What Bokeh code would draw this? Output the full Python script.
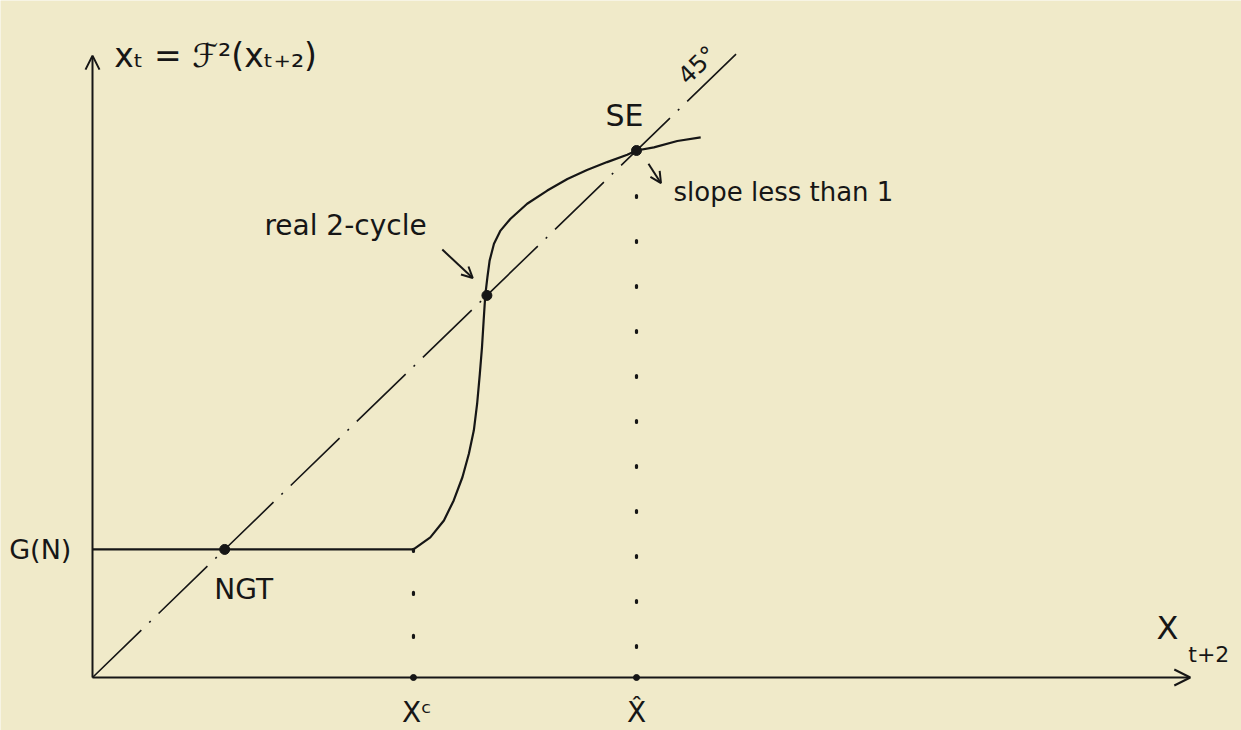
from bokeh.plotting import figure
from bokeh.models import Arrow, OpenHead, Range1d
from bokeh.embed import file_html
from bokeh.resources import INLINE
from bokeh.core.properties import value

# ---- data (in diagram units; SE = (10, 10)) ----
G_N = 2.43            # level of the flat segment G(N)
X_C = 5.90            # X^c, where the curve leaves the flat segment
NGT = 2.43            # no-growth trap on the 45-degree line
TWO_CYCLE = 7.25      # real 2-cycle on the 45-degree line
SE = 10.0             # steady equilibrium X-hat
DIAG_END = 11.93      # end of the 45-degree line
X_AXIS_END = 20.18
Y_AXIS_END = 11.80

curve_x = [5.90, 6.21, 6.46, 6.64, 6.80, 6.92, 7.01, 7.07, 7.12, 7.16, 7.19, 7.22,
           7.26, 7.30, 7.38, 7.50, 7.68, 7.99, 8.36, 8.73, 9.09, 9.46, 9.83, 10.00,
           10.32, 10.75, 11.18]
curve_y = [2.43, 2.66, 2.98, 3.36, 3.80, 4.25, 4.69, 5.19, 5.76, 6.27, 6.77, 7.25,
           7.60, 7.91, 8.23, 8.48, 8.70, 8.99, 9.24, 9.46, 9.63, 9.78, 9.92, 10.00,
           10.06, 10.18, 10.25]

BG = "#f0eac9"
INK = "#161616"
FONT = value("DejaVu Sans")

# pixel scale of the drawing: 54.4 px per unit on x, 52.7 px per unit on y,
# origin at page pixel (92, 677); figure placed at the page's top-left corner
OX, OY = 0, 0
W, H = 1241, 730
p = figure(width=W, height=H, output_backend="svg", toolbar_location=None,
           x_range=Range1d((OX - 92) / 54.4, (OX + W - 92) / 54.4),
           y_range=Range1d((677 - OY - H) / 52.7, (677 - OY) / 52.7),
           min_border=0, background_fill_color=BG, border_fill_color=BG,
           outline_line_color=None)
p.axis.visible = False
p.grid.visible = False

# axes with arrow heads
p.add_layout(Arrow(end=OpenHead(size=16, line_width=2, line_color=INK),
                   x_start=0, y_start=0, x_end=X_AXIS_END, y_end=0,
                   line_width=2, line_color=INK))
p.add_layout(Arrow(end=OpenHead(size=14, line_width=2, line_color=INK),
                   x_start=0, y_start=0, x_end=0, y_end=Y_AXIS_END,
                   line_width=2, line_color=INK))

# 45-degree line (dash-dot)
p.line([0, DIAG_END], [0, DIAG_END], line_color=INK, line_width=1.6,
       line_dash="68 11 2 11")

# flat part and the S-shaped curve
p.line([0, X_C], [G_N, G_N], line_color=INK, line_width=2.2)
p.line(curve_x, curve_y, line_color=INK, line_width=2.2)

# dotted verticals
p.line([X_C, X_C], [G_N, 0], line_color=INK, line_width=3.2, line_dash="2 41",
       line_cap="round")
p.line([SE, SE], [SE, 0], line_color=INK, line_width=3.2, line_dash="2 43",
       line_cap="round")
p.scatter([X_C, SE], [0, 0], size=6, color=INK)

# equilibrium points
p.scatter([NGT, TWO_CYCLE, SE], [NGT, TWO_CYCLE, SE], size=10, color=INK)

# annotation arrows
p.add_layout(Arrow(end=OpenHead(size=11, line_width=2, line_color=INK),
                   x_start=6.43, y_start=8.12, x_end=6.99, y_end=7.58,
                   line_width=2, line_color=INK))
p.add_layout(Arrow(end=OpenHead(size=11, line_width=2, line_color=INK),
                   x_start=10.22, y_start=9.75, x_end=10.45, y_end=9.38,
                   line_width=2, line_color=INK))

def txt(x, y, s, size, align="center", baseline="middle", angle=0):
    p.text(x=[x], y=[y], text=[s], text_font=FONT, text_font_size=f"{size}px",
           text_color=INK, text_align=align, text_baseline=baseline, angle=angle)

txt(0.40, 11.80, "xₜ = ℱ²(xₜ₊₂)", 33, align="left")
txt(11.12, 11.62, "45°", 24, angle=0.77)
txt(9.78, 10.66, "SE", 30)
txt(10.68, 9.22, "slope less than 1", 26, align="left")
txt(3.16, 8.58, "real 2-cycle", 28, align="left")
txt(-0.96, G_N, "G(N)", 27)
txt(2.78, 1.67, "NGT", 28)
txt(X_C + 0.06, -0.66, "Xᶜ", 28)
txt(SE, -0.66, "X̂", 28)
txt(19.76, 0.93, "X", 32)
txt(20.52, 0.44, "t+2", 22)

html = file_html(p, INLINE)
html = html.replace("<body>", f'<body style="background:{BG};">', 1)
open("out.html", "w").write(html)
